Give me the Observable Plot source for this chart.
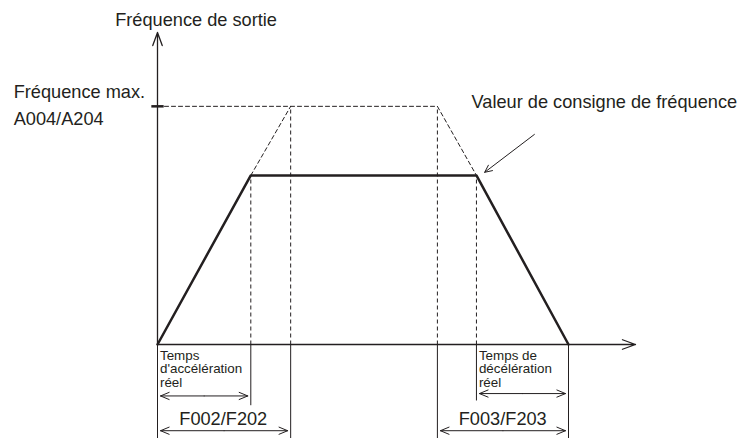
<!DOCTYPE html>
<html>
<head>
<meta charset="utf-8">
<script src="https://cdn.jsdelivr.net/npm/d3@7"></script>
<script src="https://cdn.jsdelivr.net/npm/@observablehq/plot@0.6"></script>
<style>
  html, body { margin: 0; padding: 0; background: #fff; }
  #chart svg { display: block; }
</style>
</head>
<body>
<div id="chart"></div>
<script>
// ---- data (time in arbitrary units, frequency in % of max) ----
const outputTime = [0, 2.27, 7.76, 10];          // real output frequency profile
const outputFreq = [0, 71, 71, 0];

const maxLineTime = [0, 6.81, 7.76];              // dashed: max frequency & nominal decel ramp
const maxLineFreq = [100, 100, 71];
const accGhostTime = [2.27, 3.24];                // dashed: nominal accel ramp
const accGhostFreq = [71, 100];

const guideTime = [2.27, 3.24, 6.81, 7.76];       // dashed verticals above axis
const guideTop = [71, 100, 100, 71];

const dropTime = [0, 2.27, 3.24, 6.81, 7.76, 10]; // solid verticals below axis
const dropBottom = [-41, -25.5, -41, -41, -23.5, -41];

const spanFrom = [0, 0, 7.76, 6.81];               // double arrows below axis
const spanTo = [2.27, 3.24, 10, 10];
const spanLevel = [-21.6, -36.2, -20.6, -36.2];

const spanLabels = ["Temps\nd'accélération\nréel", "F002/F202", "Temps de\ndécélération\nréel", "F003/F203"];
const spanLabelX = [0.06, 1.6, 7.82, 8.4];
const spanLabelY = [-2.5, -28.3, -2.5, -28.3];
const spanLabelSize = [14, 18, 14, 18];
const spanLabelAnchor = ["start", "middle", "start", "middle"];

const topLabels = ["Fréquence de sortie", "Fréquence max.", "A004/A204", "Valeur de consigne de fréquence"];
const topLabelX = [-1.03, -3.5, -3.5, 7.64];
const topLabelY = [139.2, 108.8, 97.8, 104.6];

const xAxisEnd = 11.63, yAxisEnd = 131, fMax = 100;
const noteFrom = [9.17, 88.2];   // annotation arrow start (time, freq)
const noteTo = [7.96, 72.3];     // annotation arrow tip

// ---- build tables ----
const ink = "#231f20";
const output = outputTime.map((t, i) => ({t, f: outputFreq[i]}));
const maxLine = maxLineTime.map((t, i) => ({t, f: maxLineFreq[i]}));
const accGhost = accGhostTime.map((t, i) => ({t, f: accGhostFreq[i]}));
const guides = guideTime.map((t, i) => ({t, top: guideTop[i]}));
const drops = dropTime.map((t, i) => ({t, bottom: dropBottom[i]}));
const halves = [];
spanFrom.forEach((a, i) => {
  const m = (a + spanTo[i]) / 2;
  halves.push({x1: m, x2: a, y: spanLevel[i]});
  halves.push({x1: m, x2: spanTo[i], y: spanLevel[i]});
});
const spanText = spanLabels.map((s, i) => ({s, x: spanLabelX[i], y: spanLabelY[i], size: spanLabelSize[i], anchor: spanLabelAnchor[i]}));
const topText = topLabels.map((s, i) => ({s, x: topLabelX[i], y: topLabelY[i]}));

const textMark = (d) => Plot.text([d], {
  x: "x", y: "y", text: "s", textAnchor: d.anchor || "start", lineAnchor: "top",
  fontSize: d.size === 14 ? 13.4 : 18.2, lineHeight: 1, fill: ink
});

const chart = Plot.plot({
  width: 745,
  height: 438,
  marginLeft: 157,
  marginRight: 110,
  marginTop: 32,
  marginBottom: 94,
  x: {type: "linear", domain: [0, xAxisEnd], axis: null},
  y: {type: "linear", domain: [0, yAxisEnd], axis: null},
  style: {fontFamily: "'Liberation Sans', Arial, sans-serif", background: "#fff", color: ink},
  marks: [
    // dashed guides
    Plot.line(maxLine, {x: "t", y: "f", stroke: ink, strokeWidth: 1, strokeDasharray: "4,3"}),
    Plot.line(accGhost, {x: "t", y: "f", stroke: ink, strokeWidth: 1, strokeDasharray: "4,3"}),
    Plot.link(guides, {x1: "t", x2: "t", y1: 0, y2: "top", stroke: ink, strokeWidth: 1, strokeDasharray: "4,3"}),
    // solid drops below axis
    Plot.link(drops, {x1: "t", x2: "t", y1: 0, y2: "bottom", stroke: ink, strokeWidth: 1}),
    // axes with arrowheads
    Plot.arrow([{x1: 0, y1: 0, x2: xAxisEnd, y2: 0}], {x1: "x1", y1: "y1", x2: "x2", y2: "y2", stroke: ink, strokeWidth: 1.3, headLength: 16, headAngle: 40}),
    Plot.arrow([{x1: 0, y1: 0, x2: 0, y2: yAxisEnd}], {x1: "x1", y1: "y1", x2: "x2", y2: "y2", stroke: ink, strokeWidth: 1.3, headLength: 16, headAngle: 40}),
    // max frequency tick
    Plot.link([{a: -0.15, b: 0.15, f: fMax}], {x1: "a", x2: "b", y1: "f", y2: "f", stroke: ink, strokeWidth: 2.5}),
    // output frequency profile
    Plot.line(output, {x: "t", y: "f", stroke: ink, strokeWidth: 2.5, strokeLinejoin: "miter"}),
    // span arrows
    Plot.arrow(halves, {x1: "x1", y1: "y", x2: "x2", y2: "y", stroke: ink, strokeWidth: 1, headLength: 14, headAngle: 45, insetEnd: 3}),
    // annotation arrow
    Plot.arrow([{x1: noteFrom[0], y1: noteFrom[1], x2: noteTo[0], y2: noteTo[1]}], {x1: "x1", y1: "y1", x2: "x2", y2: "y2", stroke: ink, strokeWidth: 1, headLength: 12, headAngle: 50}),
    // labels
    ...spanText.map(textMark),
    ...topText.map(textMark)
  ]
});
document.getElementById("chart").appendChild(chart);
</script>
</body>
</html>
